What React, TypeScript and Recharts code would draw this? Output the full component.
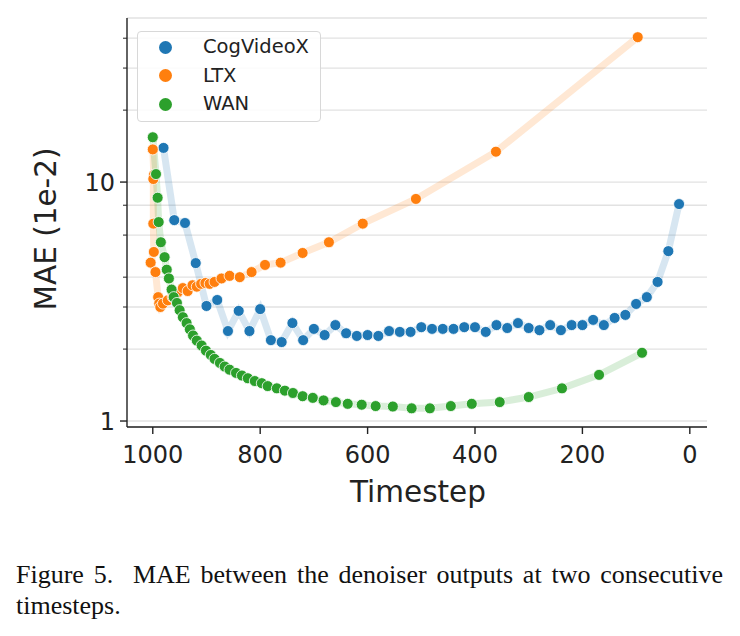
import React from 'react';
import { ComposedChart, Line, Scatter, XAxis, YAxis, CartesianGrid } from 'recharts';

// timesteps and MAE (units of 1e-2)
const cogTimesteps = [980, 960, 940, 920, 900, 880, 860, 840, 820, 800, 780, 760, 740, 720, 700, 680, 660, 640, 620, 600, 580, 560, 540, 520, 500, 480, 460, 440, 420, 400, 380, 360, 340, 320, 300, 280, 260, 240, 220, 200, 180, 160, 140, 120, 100, 80, 60, 40, 20];
const cogMae = [13.9, 6.93, 6.74, 4.58, 3.03, 3.21, 2.38, 2.89, 2.38, 2.94, 2.18, 2.14, 2.57, 2.18, 2.43, 2.29, 2.52, 2.33, 2.27, 2.29, 2.27, 2.38, 2.36, 2.36, 2.47, 2.43, 2.43, 2.43, 2.47, 2.47, 2.36, 2.52, 2.45, 2.57, 2.45, 2.4, 2.52, 2.4, 2.52, 2.52, 2.65, 2.52, 2.7, 2.78, 3.09, 3.3, 3.82, 5.14, 8.09];

const ltxTimesteps = [1000, 998, 999, 999, 998, 1004, 995, 990, 988, 986, 981, 972, 963, 954, 944, 935, 926, 918, 910, 902, 894, 885, 872, 857, 838, 816, 791, 762, 721, 672, 609, 510, 361, 97];
const ltxMae = [13.7, 10.7, 10.3, 6.7, 5.1, 4.6, 4.2, 3.3, 3.1, 3.0, 3.1, 3.2, 3.3, 3.45, 3.6, 3.5, 3.7, 3.65, 3.75, 3.78, 3.75, 3.82, 3.95, 4.05, 4.0, 4.2, 4.5, 4.6, 5.05, 5.6, 6.7, 8.5, 13.4, 40.4];

const wanTimesteps = [1000, 994, 991, 989, 985, 978, 974, 970, 965, 961, 955, 950, 944, 937, 931, 925, 918, 909, 901, 892, 885, 875, 866, 857, 845, 834, 823, 810, 797, 786, 769, 754, 739, 721, 702, 682, 659, 637, 611, 585, 553, 518, 484, 445, 406, 354, 300, 238, 169, 89];
const wanMae = [15.4, 10.8, 8.6, 6.8, 5.6, 4.85, 4.3, 3.95, 3.55, 3.3, 3.12, 2.91, 2.72, 2.57, 2.42, 2.28, 2.17, 2.07, 1.97, 1.89, 1.82, 1.75, 1.69, 1.64, 1.59, 1.55, 1.51, 1.47, 1.44, 1.4, 1.37, 1.34, 1.31, 1.27, 1.25, 1.22, 1.2, 1.18, 1.17, 1.155, 1.15, 1.13, 1.13, 1.155, 1.18, 1.2, 1.26, 1.37, 1.56, 1.93];

const xTicks = [1000, 800, 600, 400, 200, 0];
const yTicks = [1, 2, 3, 4, 5, 6, 7, 8, 9, 10, 20, 30, 40];
const yLabeled = [1, 10];

const series = [
  { name: 'CogVideoX', color: '#1f77b4', data: cogTimesteps.map((t, i) => ({ t, v: cogMae[i] })) },
  { name: 'LTX', color: '#ff7f0e', data: ltxTimesteps.map((t, i) => ({ t, v: ltxMae[i] })) },
  { name: 'WAN', color: '#2ca02c', data: wanTimesteps.map((t, i) => ({ t, v: wanMae[i] })) },
];

const FONT = '"DejaVu Sans", sans-serif';
const AXIS_X = 127;
const AXIS_Y = 427;
const INK = '#222';

const YTick = (props: any) => {
  const { y, payload } = props;
  const major = yLabeled.includes(payload.value);
  return (
    <g>
      <line x1={AXIS_X - (major ? 7 : 4)} x2={AXIS_X} y1={y} y2={y} stroke={INK} strokeWidth={major ? 1.4 : 1} />
      {major && (
        <text x={AXIS_X - 12} y={y} dy="0.36em" textAnchor="end" fontSize={24} fontFamily={FONT} fill={INK}>
          {payload.value}
        </text>
      )}
    </g>
  );
};

const XTick = (props: any) => {
  const { x, payload } = props;
  return (
    <g>
      <line x1={x} x2={x} y1={AXIS_Y} y2={AXIS_Y + 7} stroke={INK} strokeWidth={1.4} />
      <text x={x} y={AXIS_Y + 27} dy="0.36em" textAnchor="middle" fontSize={24} fontFamily={FONT} fill={INK}>
        {payload.value}
      </text>
    </g>
  );
};

const dotShape = (color: string) => (p: any) => (
  <circle cx={p.cx} cy={p.cy} r={5.5} fill={color} stroke="#fff" strokeWidth={0.8} />
);

const App: React.FC = () => {
  return (
    <div style={{ position: 'absolute', left: 0, top: 0, width: 740, height: 636, background: '#fff', overflow: 'hidden' }}>
      <ComposedChart width={740} height={540} margin={{ top: 18, right: 33, left: 0, bottom: 0 }}>
        <CartesianGrid vertical={false} stroke="#e2e2e2" strokeWidth={1.3} />
        <XAxis
          type="number"
          dataKey="t"
          domain={[-32, 1048]}
          allowDataOverflow
          reversed
          ticks={xTicks}
          tick={<XTick />}
          tickLine={false}
          height={113}
          axisLine={{ stroke: INK, strokeWidth: 1.4 }}
        />
        <YAxis
          type="number"
          dataKey="v"
          scale="log"
          domain={[0.944, 48.6]}
          allowDataOverflow
          ticks={yTicks}
          tick={<YTick />}
          tickLine={false}
          width={127}
          axisLine={{ stroke: INK, strokeWidth: 1.4 }}
        />
        {series.map((s) => (
          <Line
            key={s.name + '-line'}
            data={s.data}
            dataKey="v"
            type="linear"
            stroke={s.color}
            strokeOpacity={0.18}
            strokeWidth={7}
            dot={false}
            activeDot={false}
            isAnimationActive={false}
          />
        ))}
        {series.map((s) => (
          <Scatter
            key={s.name + '-dots'}
            data={s.data}
            dataKey="v"
            fill={s.color}
            shape={dotShape(s.color)}
            isAnimationActive={false}
          />
        ))}
      </ComposedChart>

      <div
        style={{
          position: 'absolute', left: 137, top: 31, width: 182, height: 89,
          border: '1px solid #d8d8d8', borderRadius: 4, background: 'rgba(255,255,255,0.85)',
          fontFamily: FONT, fontSize: 19.5, color: INK,
        }}
      >
        {series.map((s, i) => (
          <div key={s.name} style={{ position: 'absolute', left: 0, top: 2 + i * 28.5, height: 26, display: 'flex', alignItems: 'center' }}>
            <span style={{ position: 'absolute', left: 21, width: 13, height: 13, borderRadius: '50%', background: s.color }} />
            <span style={{ position: 'absolute', left: 65, whiteSpace: 'nowrap', lineHeight: '26px' }}>{s.name}</span>
          </div>
        ))}
      </div>

      <div
        style={{
          position: 'absolute', left: 46, top: 229, transform: 'translate(-50%, -50%) rotate(-90deg)',
          fontFamily: FONT, fontSize: 29.5, color: INK, whiteSpace: 'nowrap',
        }}
      >
        MAE (1e-2)
      </div>
      <div
        style={{
          position: 'absolute', left: 418, top: 492, transform: 'translate(-50%, -50%)',
          fontFamily: FONT, fontSize: 29.5, color: INK, whiteSpace: 'nowrap',
        }}
      >
        Timestep
      </div>

      <div style={{ position: 'absolute', left: 16, top: 559, width: 707, fontFamily: '"Liberation Serif", serif', fontSize: 26, lineHeight: '31px', color: '#111' }}>
        <div style={{ textAlign: 'justify', textAlignLast: 'justify', whiteSpace: 'nowrap' }}>Figure 5.&nbsp; MAE between the denoiser outputs at two consecutive</div>
        <div>timesteps.</div>
      </div>
    </div>
  );
};

export default App;
